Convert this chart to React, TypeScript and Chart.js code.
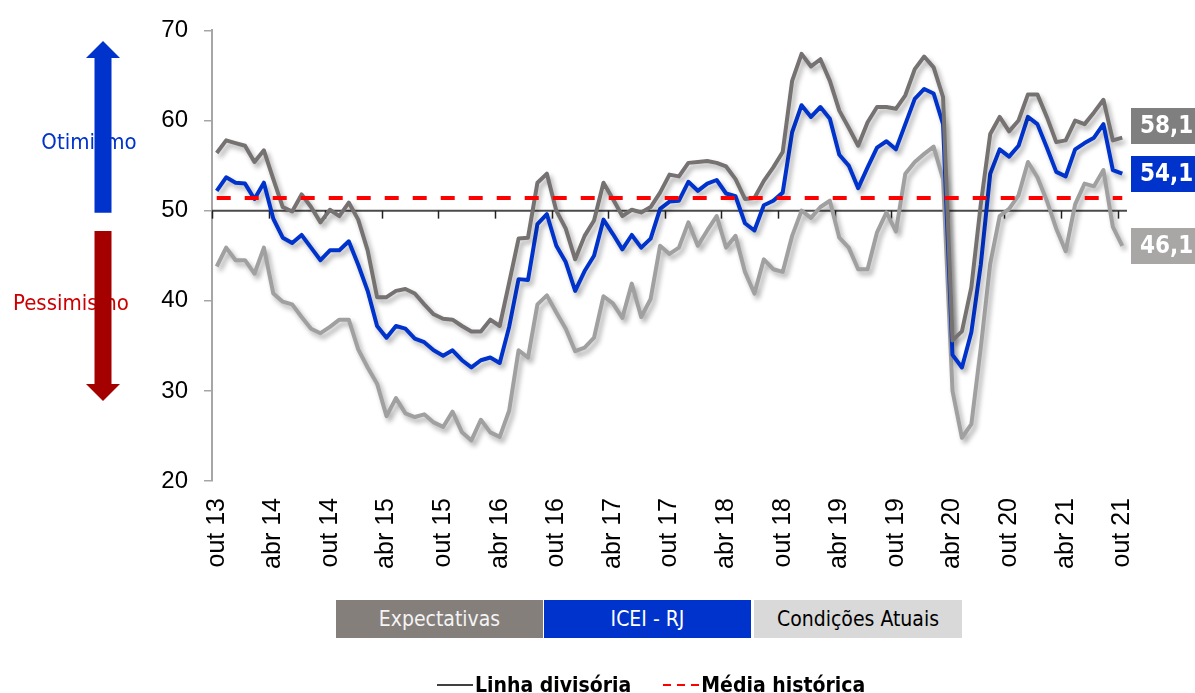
import React, { useEffect, useRef } from "react";
import { Chart, registerables } from "chart.js";

Chart.register(...registerables);

const CATEGORIES: string[] = [
  "out 13", "nov 13", "dez 13",
  "jan 14", "fev 14", "mar 14", "abr 14", "mai 14", "jun 14", "jul 14", "ago 14", "set 14", "out 14", "nov 14", "dez 14",
  "jan 15", "fev 15", "mar 15", "abr 15", "mai 15", "jun 15", "jul 15", "ago 15", "set 15", "out 15", "nov 15", "dez 15",
  "jan 16", "fev 16", "mar 16", "abr 16", "mai 16", "jun 16", "jul 16", "ago 16", "set 16", "out 16", "nov 16", "dez 16",
  "jan 17", "fev 17", "mar 17", "abr 17", "mai 17", "jun 17", "jul 17", "ago 17", "set 17", "out 17", "nov 17", "dez 17",
  "jan 18", "fev 18", "mar 18", "abr 18", "mai 18", "jun 18", "jul 18", "ago 18", "set 18", "out 18", "nov 18", "dez 18",
  "jan 19", "fev 19", "mar 19", "abr 19", "mai 19", "jun 19", "jul 19", "ago 19", "set 19", "out 19", "nov 19", "dez 19",
  "jan 20", "fev 20", "mar 20", "abr 20", "mai 20", "jun 20", "jul 20", "ago 20", "set 20", "out 20", "nov 20", "dez 20",
  "jan 21", "fev 21", "mar 21", "abr 21", "mai 21", "jun 21", "jul 21", "ago 21", "set 21", "out 21",
];

const TICK_LABELS: string[] = [
  "out 13", "abr 14", "out 14", "abr 15", "out 15", "abr 16", "out 16", "abr 17", "out 17",
  "abr 18", "out 18", "abr 19", "out 19", "abr 20", "out 20", "abr 21", "out 21",
];

const EXPECTATIVAS: number[] = [
  56.4, 57.8, 57.5,
  57.2, 55.4, 56.7, 53.5, 50.4, 49.9, 51.8, 50.4, 48.7, 50.1, 49.4, 50.9,
  49.0, 45.6, 40.4, 40.4, 41.1, 41.3, 40.8, 39.6, 38.5, 38.0, 37.9, 37.2,
  36.6, 36.6, 37.9, 37.2, 42.0, 46.9, 47.0, 53.1, 54.1, 50.0, 48.0, 44.6,
  47.2, 48.9, 53.1, 51.3, 49.4, 50.1, 49.8, 50.4, 52.0, 54.0, 53.8, 55.3,
  55.4, 55.5, 55.3, 54.9, 53.5, 51.3, 51.4, 53.3, 54.8, 56.5, 64.4, 67.4,
  66.0, 66.8, 64.4, 61.1, 59.2, 57.2, 59.8, 61.5, 61.5, 61.3, 62.8, 65.7,
  67.1, 65.9, 62.6, 35.6, 36.6, 41.5, 50.7, 58.5, 60.4, 58.8, 60.0, 62.9,
  62.9, 60.4, 57.6, 57.8, 60.0, 59.6, 60.9, 62.3, 57.8, 58.1,
];

const ICEI_RJ: number[] = [
  52.2, 53.7, 53.1,
  53.0, 51.3, 53.1, 49.1, 47.0, 46.4, 47.3, 45.9, 44.5, 45.6, 45.6, 46.6,
  44.0, 41.1, 37.2, 35.9, 37.2, 36.9, 35.8, 35.4, 34.5, 33.9, 34.5, 33.4,
  32.6, 33.4, 33.7, 33.1, 37.1, 42.4, 42.3, 48.5, 49.6, 46.1, 44.3, 41.1,
  43.3, 45.0, 49.0, 47.4, 45.7, 47.3, 45.9, 46.9, 50.2, 51.0, 51.1, 53.2,
  52.2, 53.0, 53.4, 51.9, 51.6, 48.6, 47.8, 50.6, 51.1, 52.0, 58.7, 61.7,
  60.4, 61.5, 60.2, 56.2, 55.0, 52.5, 54.8, 57.0, 57.7, 56.8, 59.6, 62.4,
  63.5, 63.0, 59.6, 34.0, 32.6, 36.5, 44.0, 54.1, 56.8, 56.0, 57.2, 60.4,
  59.6, 57.0, 54.3, 53.8, 56.8, 57.5, 58.1, 59.6, 54.5, 54.1,
];

const CONDICOES_ATUAIS: number[] = [
  43.8, 45.9, 44.5,
  44.5, 43.0, 45.9, 40.8, 39.9, 39.6, 38.2, 36.9, 36.4, 37.1, 37.9, 37.9,
  34.6, 32.6, 30.8, 27.2, 29.2, 27.5, 27.1, 27.4, 26.5, 26.0, 27.7, 25.4,
  24.5, 26.8, 25.4, 24.9, 27.8, 34.5, 33.7, 39.6, 40.6, 38.7, 36.9, 34.4,
  34.8, 35.9, 40.5, 39.7, 38.1, 41.9, 38.2, 40.2, 46.1, 45.2, 45.9, 48.7,
  46.1, 47.8, 49.4, 45.9, 47.2, 43.2, 40.8, 44.6, 43.5, 43.2, 47.2, 50.0,
  49.2, 50.4, 51.1, 47.0, 45.9, 43.5, 43.5, 47.6, 49.8, 47.7, 54.1, 55.4,
  56.3, 57.1, 53.5, 30.0, 24.8, 26.3, 34.8, 44.1, 49.4, 50.2, 51.7, 55.4,
  53.7, 51.1, 48.0, 45.5, 50.7, 53.0, 52.7, 54.5, 48.2, 46.1,
];

const LINHA_DIVISORIA = 50;
const MEDIA_HISTORICA = 51.4;
const Y_MIN = 20;
const Y_MAX = 70;
const Y_STEP = 10;

const SERIES_NAMES = ["Expectativas", "ICEI - RJ", "Condições Atuais"];
const SERIES_COLORS = ["#767272", "#0033cc", "#a0a0a0"];
const LABEL_BOX_COLORS = ["#7f7f7f", "#0033cc", "#a9a6a6"];
const LEGEND_BOX_COLORS = ["#857f7c", "#0033cc", "#d9d9d9"];
const LEGEND_TEXT_COLORS = ["#f4f4f4", "#ffffff", "#000000"];

const FONT_T = '"DejaVu Sans Condensed", "DejaVu Sans", sans-serif';
const FONT_A = '"Liberation Sans", Arial, sans-serif';

function drawArrow(ctx: CanvasRenderingContext2D, cx: number, base: number, tip: number, color: string) {
  const dir = tip < base ? -1 : 1;
  const shaftW = 17;
  const headW = 34;
  const headL = 17;
  const headBase = tip - dir * headL;
  ctx.fillStyle = color;
  ctx.beginPath();
  ctx.moveTo(cx - shaftW / 2, base);
  ctx.lineTo(cx - shaftW / 2, headBase);
  ctx.lineTo(cx - headW / 2, headBase);
  ctx.lineTo(cx, tip);
  ctx.lineTo(cx + headW / 2, headBase);
  ctx.lineTo(cx + shaftW / 2, headBase);
  ctx.lineTo(cx + shaftW / 2, base);
  ctx.closePath();
  ctx.fill();
}

const decorPlugin = {
  id: "decor",
  beforeDatasetsDraw(chart: any) {
    const { ctx, chartArea, scales } = chart;
    const xs = scales.x;
    const ys = scales.y;
    const yy = ys.getPixelForValue(LINHA_DIVISORIA);
    ctx.save();
    ctx.strokeStyle = "#4a4a4a";
    ctx.lineWidth = 2;
    ctx.beginPath();
    ctx.moveTo(chartArea.left, yy);
    ctx.lineTo(chartArea.right, yy);
    ctx.stroke();
    const half = (xs.getPixelForValue(1) - xs.getPixelForValue(0)) / 2;
    ctx.strokeStyle = "#222";
    ctx.lineWidth = 1.5;
    CATEGORIES.forEach((c, i) => {
      if (!TICK_LABELS.includes(c)) return;
      const px = Math.round(xs.getPixelForValue(i) - half) + 0.5;
      ctx.beginPath();
      ctx.moveTo(px, yy);
      ctx.lineTo(px, yy + 8);
      ctx.stroke();
    });
    ctx.restore();
  },
  beforeDatasetDraw(chart: any, args: any) {
    if (args.index === 0) return;
    const ctx = chart.ctx;
    ctx.save();
    ctx.shadowColor = "rgba(0,0,0,0.32)";
    ctx.shadowBlur = 5;
    ctx.shadowOffsetX = 3;
    ctx.shadowOffsetY = 4;
  },
  afterDatasetDraw(chart: any, args: any) {
    if (args.index === 0) return;
    chart.ctx.restore();
  },
  afterDraw(chart: any) {
    const { ctx, chartArea, scales } = chart;
    const ys = scales.y;
    ctx.save();
    // left annotations: text first, arrows above
    ctx.font = `22px ${FONT_T}`;
    ctx.textAlign = "center";
    ctx.textBaseline = "middle";
    ctx.fillStyle = "#0033cc";
    ctx.fillText("Otimismo", 89, 143);
    ctx.fillStyle = "#cc0000";
    ctx.fillText("Pessimismo", 71, 304);
    drawArrow(ctx, 103, ys.getPixelForValue(LINHA_DIVISORIA) + 2, 41, "#0033cc");
    drawArrow(ctx, 103, 231, 401, "#a50000");

    // end-value labels
    const series = [EXPECTATIVAS, ICEI_RJ, CONDICOES_ATUAIS];
    const h = 36;
    const gap = 12;
    const centers = series.map((s) => ys.getPixelForValue(s[s.length - 1]));
    const order = [0, 1, 2].sort((a, b) => centers[a] - centers[b]);
    for (let k = order.length - 2; k >= 0; k--) {
      const cur = order[k];
      const below = order[k + 1];
      if (centers[cur] > centers[below] - (h + gap)) centers[cur] = centers[below] - (h + gap);
    }
    const bx = chartArea.right + 4;
    ctx.font = `bold 24px ${FONT_T}`;
    ctx.textAlign = "left";
    ctx.textBaseline = "middle";
    series.forEach((s, i) => {
      const v = s[s.length - 1];
      const cy = centers[i];
      ctx.fillStyle = LABEL_BOX_COLORS[i];
      ctx.fillRect(bx, Math.round(cy - h / 2), chart.width - bx, h);
      ctx.fillStyle = "#ffffff";
      ctx.fillText(v.toFixed(1).replace(".", ","), bx + 9, cy + 1);
    });
    ctx.restore();
  },
};

export default function App() {
  const canvasRef = useRef<HTMLCanvasElement | null>(null);

  useEffect(() => {
    const canvas = canvasRef.current;
    if (!canvas) return;
    const chart = new Chart(canvas, {
      type: "line",
      data: {
        labels: CATEGORIES,
        datasets: [
          {
            label: "Média histórica",
            data: CATEGORIES.map(() => MEDIA_HISTORICA),
            borderColor: "#ff0000",
            borderWidth: 4,
            borderDash: [14, 14],
            pointRadius: 0,
          },
          {
            label: SERIES_NAMES[0],
            data: EXPECTATIVAS,
            borderColor: SERIES_COLORS[0],
            borderWidth: 4,
            pointRadius: 0,
            borderJoinStyle: "round",
          },
          {
            label: SERIES_NAMES[1],
            data: ICEI_RJ,
            borderColor: SERIES_COLORS[1],
            borderWidth: 4,
            pointRadius: 0,
            borderJoinStyle: "round",
          },
          {
            label: SERIES_NAMES[2],
            data: CONDICOES_ATUAIS,
            borderColor: SERIES_COLORS[2],
            borderWidth: 4,
            pointRadius: 0,
            borderJoinStyle: "round",
          },
        ],
      },
      options: {
        responsive: false,
        animation: false,
        devicePixelRatio: 1,
        layout: { padding: { top: 28, right: 68, left: 0, bottom: 0 } },
        plugins: { legend: { display: false }, tooltip: { enabled: false } },
        elements: { line: { tension: 0 } },
        scales: {
          x: {
            type: "category",
            offset: true,
            grid: { display: false, drawTicks: false },
            border: { display: false },
            afterFit: (s: any) => {
              s.height = 212;
            },
            ticks: {
              autoSkip: false,
              minRotation: 90,
              maxRotation: 90,
              padding: 17,
              color: "#000",
              font: { family: FONT_A, size: 25 },
              callback: (_v: any, idx: number) =>
                TICK_LABELS.includes(CATEGORIES[idx]) ? CATEGORIES[idx] : "",
            },
          },
          y: {
            min: Y_MIN,
            max: Y_MAX,
            afterFit: (s: any) => {
              s.width = 212;
            },
            grid: {
              drawOnChartArea: false,
              drawTicks: true,
              tickLength: 8,
              color: "#a6a6a6",
              lineWidth: 1.5,
            },
            border: { color: "#a6a6a6", width: 2 },
            ticks: {
              stepSize: Y_STEP,
              padding: 16,
              color: "#000",
              font: { family: FONT_A, size: 24 },
            },
          },
        },
      },
      plugins: [decorPlugin],
    } as any);
    return () => chart.destroy();
  }, []);

  const boxes = [
    { left: 336, width: 207 },
    { left: 544, width: 207 },
    { left: 754, width: 208 },
  ];

  return (
    <div style={{ position: "absolute", left: 0, top: 0, width: 1195, height: 693, background: "#fff", overflow: "hidden" }}>
      <canvas ref={canvasRef} width={1195} height={693} style={{ display: "block", position: "absolute", left: 0, top: 0 }} />
      {SERIES_NAMES.map((name, i) => (
        <div
          key={name}
          style={{
            position: "absolute",
            left: boxes[i].left,
            top: 600,
            width: boxes[i].width,
            height: 38,
            background: LEGEND_BOX_COLORS[i],
            color: LEGEND_TEXT_COLORS[i],
            fontFamily: FONT_T,
            fontSize: 21,
            display: "flex",
            alignItems: "center",
            justifyContent: "center",
          }}
        >
          {name}
        </div>
      ))}
      <div
        style={{
          position: "absolute",
          left: 437,
          top: 672,
          height: 26,
          display: "flex",
          alignItems: "center",
          fontFamily: FONT_T,
          fontWeight: "bold",
          fontSize: 21,
          color: "#000",
          whiteSpace: "nowrap",
        }}
      >
        <span style={{ display: "inline-block", width: 36, height: 2, background: "#404040", marginRight: 2 }} />
        <span>Linha divisória</span>
        <span style={{ display: "inline-block", width: 32 }} />
        <span style={{ display: "inline-flex", width: 36, marginRight: 2, justifyContent: "space-between" }}>
          <span style={{ display: "inline-block", width: 8, height: 2.5, background: "#ff0000" }} />
          <span style={{ display: "inline-block", width: 8, height: 2.5, background: "#ff0000" }} />
          <span style={{ display: "inline-block", width: 8, height: 2.5, background: "#ff0000" }} />
        </span>
        <span>Média histórica</span>
      </div>
    </div>
  );
}
